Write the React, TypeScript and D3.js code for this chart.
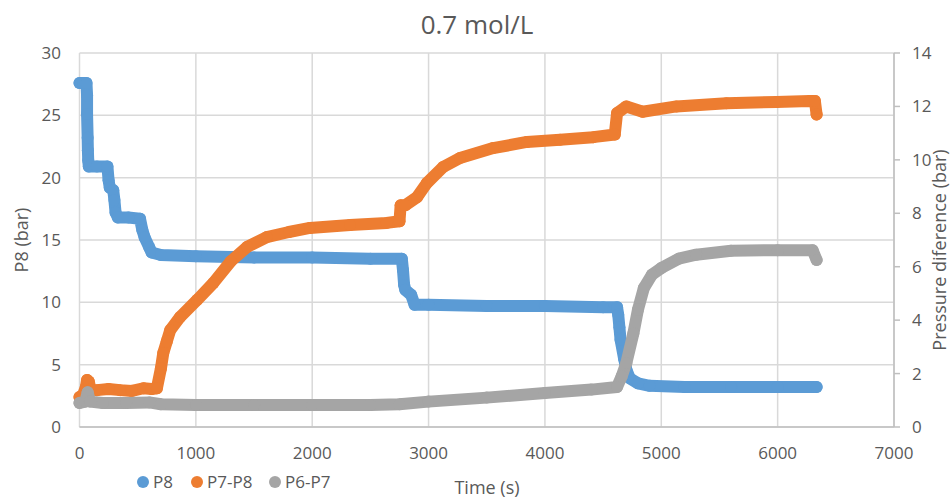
import React, { useEffect, useRef } from 'react';
import * as d3 from 'd3';

// P8 (left axis, bar)
const timeP8 = [0, 30, 60, 65, 65, 70, 72, 75, 80, 150, 240, 250, 260, 290, 300, 310, 330, 420, 520, 540, 560, 600, 620, 700, 1000, 1500, 2000, 2500, 2770, 2780, 2790, 2800, 2850, 2880, 3000, 3500, 4000, 4500, 4620, 4630, 4640, 4650, 4680, 4700, 4730, 4800, 4900, 5200, 5600, 6000, 6335];
const valuesP8 = [27.6, 27.6, 27.6, 26.6, 25.1, 23.2, 22.2, 21.4, 20.9, 20.9, 20.9, 19.8, 19.2, 19.0, 18.2, 17.2, 16.8, 16.8, 16.7, 15.8, 15.2, 14.4, 14.0, 13.8, 13.7, 13.6, 13.6, 13.5, 13.5, 12.6, 11.4, 11.0, 10.6, 9.8, 9.8, 9.7, 9.7, 9.6, 9.6, 9.0, 8.0, 7.0, 5.5, 4.6, 3.9, 3.5, 3.3, 3.2, 3.2, 3.2, 3.2];

// P7-P8 (right axis, bar)
const timeP78 = [0, 30, 55, 65, 80, 95, 150, 250, 350, 450, 550, 620, 665, 700, 720, 750, 780, 865, 1010, 1150, 1300, 1440, 1610, 1800, 1980, 2325, 2640, 2750, 2760, 2800, 2900, 2985, 3125, 3270, 3555, 3845, 4130, 4415, 4600, 4620, 4700, 4840, 5130, 5560, 5990, 6275, 6320, 6335];
const valuesP78 = [1.12, 1.2, 1.5, 1.76, 1.7, 1.4, 1.38, 1.42, 1.38, 1.35, 1.45, 1.42, 1.45, 2.2, 2.77, 3.2, 3.63, 4.12, 4.75, 5.39, 6.2, 6.74, 7.11, 7.3, 7.45, 7.56, 7.64, 7.7, 8.3, 8.3, 8.6, 9.13, 9.73, 10.07, 10.44, 10.67, 10.75, 10.85, 10.95, 11.75, 12.0, 11.8, 12.0, 12.12, 12.17, 12.2, 12.2, 11.7];

// P6-P7 (right axis, bar)
const timeP67 = [0, 50, 70, 90, 200, 400, 600, 700, 1000, 1500, 2000, 2500, 2750, 3000, 3500, 4000, 4400, 4620, 4660, 4700, 4760, 4800, 4850, 4920, 5000, 5150, 5300, 5600, 6000, 6300, 6335];
const valuesP67 = [0.9, 0.95, 1.3, 0.95, 0.9, 0.9, 0.92, 0.85, 0.82, 0.82, 0.82, 0.82, 0.85, 0.95, 1.1, 1.27, 1.4, 1.5, 1.9, 2.4, 3.5, 4.4, 5.2, 5.7, 5.95, 6.3, 6.45, 6.6, 6.62, 6.62, 6.25];

const xTicks = [0, 1000, 2000, 3000, 4000, 5000, 6000, 7000];
const leftTicks = [0, 5, 10, 15, 20, 25, 30];
const rightTicks = [0, 2, 4, 6, 8, 10, 12, 14];
const seriesNames = ['P8', 'P7-P8', 'P6-P7'];
const colors = ['#5b9bd5', '#ed7d31', '#a5a5a5'];

function App() {
  const ref = useRef<SVGSVGElement>(null);

  useEffect(() => {
    if (!ref.current) return;
    const svg = d3.select(ref.current);
    svg.selectAll('*').remove();

    const font = "'Open Sans', 'Liberation Sans', sans-serif";
    const textColor = '#595959';

    const x = d3.scaleLinear().domain([0, 7000]).range([79.5, 894]);
    const yL = d3.scaleLinear().domain([0, 30]).range([427, 53]);
    const yR = d3.scaleLinear().domain([0, 14]).range([427, 53]);

    // gridlines
    const grid = svg.append('g');
    grid.selectAll('line.h').data(leftTicks).join('line')
      .attr('x1', x(0)).attr('x2', x(7000))
      .attr('y1', d => yL(d)).attr('y2', d => yL(d))
      .attr('stroke', '#d9d9d9').attr('stroke-width', 1.5);
    grid.selectAll('line.v').data(xTicks).join('line')
      .attr('x1', d => x(d)).attr('x2', d => x(d))
      .attr('y1', yL(0)).attr('y2', yL(30))
      .attr('stroke', '#d9d9d9').attr('stroke-width', 1.5);

    // bottom + right axis lines
    svg.append('line').attr('x1', x(0)).attr('x2', x(7000)).attr('y1', yL(0)).attr('y2', yL(0))
      .attr('stroke', '#bfbfbf').attr('stroke-width', 1.5);
    svg.append('line').attr('x1', x(7000)).attr('x2', x(7000)).attr('y1', yR(0)).attr('y2', yR(14))
      .attr('stroke', '#bfbfbf').attr('stroke-width', 1.5);
    svg.selectAll('line.rt').data(rightTicks).join('line')
      .attr('x1', x(7000)).attr('x2', x(7000) + 6)
      .attr('y1', d => yR(d)).attr('y2', d => yR(d))
      .attr('stroke', '#bfbfbf').attr('stroke-width', 1.5);

    // tick labels
    svg.selectAll('text.xt').data(xTicks).join('text')
      .attr('x', d => x(d)).attr('y', 459)
      .attr('text-anchor', 'middle').attr('font-family', font).attr('font-size', 17)
      .attr('fill', textColor).text(d => d);
    svg.selectAll('text.lt').data(leftTicks).join('text')
      .attr('x', 61).attr('y', d => yL(d) + 6)
      .attr('text-anchor', 'end').attr('font-family', font).attr('font-size', 17)
      .attr('fill', textColor).text(d => d);
    svg.selectAll('text.rt').data(rightTicks).join('text')
      .attr('x', 912).attr('y', d => yR(d) + 6)
      .attr('text-anchor', 'start').attr('font-family', font).attr('font-size', 17)
      .attr('fill', textColor).text(d => d);

    // series
    const series = [
      { t: timeP8, v: valuesP8, y: yL },
      { t: timeP78, v: valuesP78, y: yR },
      { t: timeP67, v: valuesP67, y: yR },
    ];
    series.forEach((s, i) => {
      const pts: [number, number][] = s.t.map((t, j) => [t, s.v[j]]);
      const line = d3.line<[number, number]>().x(d => x(d[0])).y(d => s.y(d[1]));
      svg.append('path').attr('d', line(pts))
        .attr('fill', 'none').attr('stroke', colors[i]).attr('stroke-width', 12)
        .attr('stroke-linejoin', 'round').attr('stroke-linecap', 'round');
      svg.append('g').selectAll('circle').data(pts).join('circle')
        .attr('cx', d => x(d[0])).attr('cy', d => s.y(d[1])).attr('r', 6)
        .attr('fill', colors[i]);
    });

    // titles
    svg.append('text').attr('x', 477).attr('y', 34).attr('text-anchor', 'middle')
      .attr('font-family', font).attr('font-size', 26).attr('fill', textColor).text('0.7 mol/L');
    svg.append('text').attr('x', 487).attr('y', 494).attr('text-anchor', 'middle')
      .attr('font-family', font).attr('font-size', 18).attr('fill', textColor).text('Time (s)');
    svg.append('text').attr('transform', 'translate(28,240) rotate(-90)').attr('text-anchor', 'middle')
      .attr('font-family', font).attr('font-size', 18).attr('fill', textColor).text('P8 (bar)');
    svg.append('text').attr('transform', 'translate(946,250) rotate(-90)').attr('text-anchor', 'middle')
      .attr('font-family', font).attr('font-size', 18).attr('fill', textColor).text('Pressure diference (bar)');

    // legend
    const legendX = [143, 197, 275];
    seriesNames.forEach((name, i) => {
      svg.append('circle').attr('cx', legendX[i]).attr('cy', 482).attr('r', 6).attr('fill', colors[i]);
      svg.append('text').attr('x', legendX[i] + 10).attr('y', 488)
        .attr('font-family', font).attr('font-size', 17).attr('fill', textColor).text(name);
    });
  }, []);

  return (
    <svg ref={ref} width={951} height={499}
      style={{ position: 'absolute', left: 0, top: 0, background: '#fff' }} />
  );
}

export default App;
